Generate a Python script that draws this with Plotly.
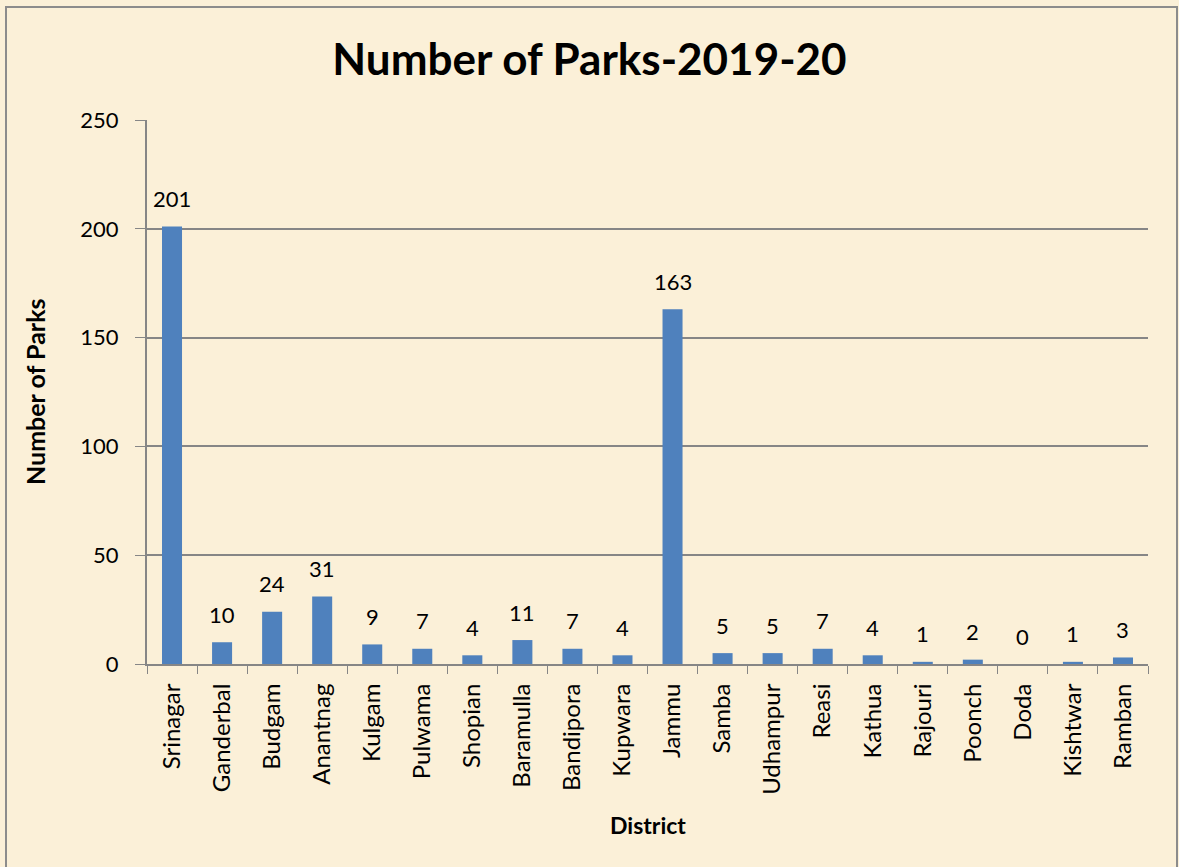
import plotly.graph_objects as go

districts = ["Srinagar", "Ganderbal", "Budgam", "Anantnag", "Kulgam", "Pulwama",
             "Shopian", "Baramulla", "Bandipora", "Kupwara", "Jammu", "Samba",
             "Udhampur", "Reasi", "Kathua", "Rajouri", "Poonch", "Doda",
             "Kishtwar", "Ramban"]
parks = [201, 10, 24, 31, 9, 7, 4, 11, 7, 4, 163, 5, 5, 7, 4, 1, 2, 0, 1, 3]
y_ticks = [0, 50, 100, 150, 200, 250]

FONT = "Lato, Carlito, Calibri, sans-serif"
W, H = 1179, 867
L, R, T, B = 147, 31, 120, 203
pw, ph = W - L - R, H - T - B

def px_to_paper_x(px):
    return (px - L) / pw

def px_to_paper_y(py):
    return (H - B - py) / ph

fig = go.Figure(go.Bar(
    x=districts, y=parks,
    marker=dict(color="#4F81BD", line=dict(width=0)),
    hoverinfo="x+y",
))

value_labels = [
    dict(text=str(v), x=d, y=v, xref="x", yref="y",
         xanchor="center", yanchor="middle", yshift=28, showarrow=False,
         font=dict(family=FONT, size=22, color="#000000"))
    for d, v in zip(districts, parks)
]

fig.update_layout(
    width=W, height=H,
    margin=dict(l=L, r=R, t=T, b=B),
    paper_bgcolor="#FBF0D8",
    plot_bgcolor="rgba(0,0,0,0)",
    bargap=0.6,
    showlegend=False,
    font=dict(family=FONT, color="#000000"),
    title=dict(text="<b>Number of Parks-2019-20</b>", x=0.5, xanchor="center",
               y=1 - 60 / H, yanchor="middle",
               font=dict(family=FONT, size=44, color="#000000")),
    xaxis=dict(
        type="category", tickangle=-90, tickson="boundaries",
        ticks="outside", ticklen=8, tickcolor="#868686",
        showline=True, linecolor="#868686", linewidth=2,
        showgrid=False, ticklabelstandoff=8,
        tickfont=dict(family=FONT, size=24, color="#000000"),
    ),
    yaxis=dict(
        range=[0, 250], tickvals=y_ticks,
        ticks="outside", ticklen=10, tickcolor="#868686",
        showline=True, linecolor="#868686", linewidth=2,
        showgrid=True, gridcolor="#868686", gridwidth=1.5,
        zeroline=False, ticklabelstandoff=12,
        tickfont=dict(family=FONT, size=22, color="#000000"),
    ),
    annotations=value_labels + [
        dict(text="<b>District</b>", xref="paper", yref="paper",
             x=0.5, y=px_to_paper_y(825), xanchor="center", yanchor="middle",
             showarrow=False, font=dict(family=FONT, size=23, color="#000000")),
        dict(text="<b>Number of Parks</b>", xref="paper", yref="paper",
             x=px_to_paper_x(35), y=px_to_paper_y(392), textangle=-90,
             xanchor="center", yanchor="middle",
             showarrow=False, font=dict(family=FONT, size=25, color="#000000")),
    ],
    shapes=[dict(
        type="rect", xref="paper", yref="paper",
        x0=px_to_paper_x(6), x1=px_to_paper_x(1177),
        y0=px_to_paper_y(880), y1=px_to_paper_y(7),
        line=dict(color="#8C8C8C", width=2), fillcolor="rgba(0,0,0,0)",
        layer="below",
    )],
)

fig.write_html("out.html", config={"displayModeBar": False},
               post_script="document.body.style.margin='0';document.body.style.overflow='hidden';")
